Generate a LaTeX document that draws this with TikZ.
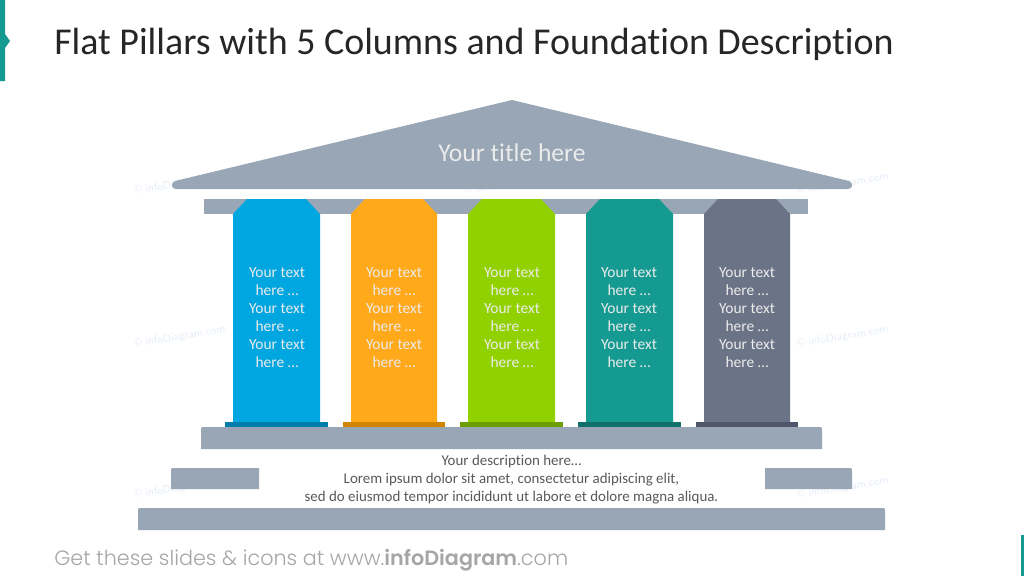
\documentclass[tikz,border=0pt]{standalone}
\usepackage{fontspec}
\setmainfont{Carlito}[Ligatures=NoCommon]
\newfontfamily\footfont{Poppins Light}[BoldFont={Poppins SemiBold}]
\definecolor{roofc}{HTML}{98A6B5}
\definecolor{tealc}{HTML}{159A91}
\definecolor{c1}{HTML}{00A6E0}
\definecolor{c2}{HTML}{FFA91B}
\definecolor{c3}{HTML}{92D100}
\definecolor{c4}{HTML}{159A91}
\definecolor{c5}{HTML}{6B7386}
\definecolor{b1}{HTML}{007DA8}
\definecolor{b2}{HTML}{D18500}
\definecolor{b3}{HTML}{6E9D00}
\definecolor{b4}{HTML}{10706B}
\definecolor{b5}{HTML}{50566A}
\definecolor{wmc}{HTML}{E6EDF7}
\tikzset{
  x=0.75pt,y=-0.75pt,
  wm/.style={text=wmc,font=\fontsize{8}{9}\selectfont\sffamily,rotate=9,inner sep=0pt},
  coltext/.style={text=white!92!black,align=center,inner sep=0pt,font=\fontsize{11.6}{13.5}\selectfont},
  stone/.style={fill=roofc,draw=none},
}
\newcommand{\pillar}[4]{% left x, right x, fill, base
  \fill[#3] (#1,422) -- (#1,214) -- (#1+14,199) -- (#2-14,199) -- (#2,214) -- (#2,422) -- cycle;
  \fill[#4] (#1-8,422) rectangle (#2+8,427);
}
\begin{document}
\begin{tikzpicture}
\useasboundingbox (0,0) rectangle (1024,576);
\fill[white] (0,0) rectangle (1024,576);
% watermarks
\foreach \n/\xx/\yy in {wa/180/184,wb/511/184,wc/843/184,wd/180/337,wf/843/337,wg/180/488,wh/843/488}
  \node[wm] (\n) at (\xx,\yy) {© infoDiagram.com};
% corner marks
\fill[tealc] (0,0) -- (5,0) -- (5,34) -- (10,41) -- (5,48) -- (5,81) -- (0,81) -- cycle;
\fill[tealc] (1021,535) rectangle (1024,576);
% title
\node[anchor=west,inner sep=0pt,text=black!85,font=\fontsize{28.45}{32}\selectfont] (title) at (54,44) {Flat Pillars with 5 Columns and Foundation Description};
% roof
\fill[stone] (512,100) -- (849,181) .. controls (853.5,182.5) and (853,189) .. (848,189) -- (176,189) .. controls (171,189) and (170.5,182.5) .. (175,181) -- cycle;
\node[text=white!92!black,inner sep=0pt,font=\fontsize{19.2}{22}\selectfont] (rooftext) at (512,152.5) {Your title here};
% architrave
\fill[stone] (204,199) rectangle (808,214);
% pillars
\pillar{233}{320}{c1}{b1}
\pillar{351}{437}{c2}{b2}
\pillar{468}{555}{c3}{b3}
\pillar{586}{673}{c4}{b4}
\pillar{704}{790}{c5}{b5}
\foreach \n/\xx in {ta/277,tb/394,tc/512,td/629,te/747}
  \node[coltext] (\n) at (\xx,318) {Your text\\here …\\Your text\\here …\\Your text\\here …};
% steps
\fill[stone] (201,449) -- (201,431) .. controls (201,427) .. (205,427) -- (818,427) .. controls (822,427) .. (822,431) -- (822,449) -- cycle;
\fill[stone] (171,489) -- (171,472) .. controls (171,468) .. (175,468) -- (259,468) -- (259,489) -- cycle;
\fill[stone] (765,489) -- (765,468) -- (848,468) .. controls (852,468) .. (852,472) -- (852,489) -- cycle;
\fill[stone] (138,530) -- (138,512) .. controls (138,508) .. (142,508) -- (881,508) .. controls (885,508) .. (885,512) -- (885,530) -- cycle;
% description
\node[text=black!65,align=center,inner sep=0pt,font=\fontsize{11.2}{13.5}\selectfont] (desc) at (511.5,480) {Your description here…\\Lorem ipsum dolor sit amet, consectetur adipiscing elit,\\sed do eiusmod tempor incididunt ut labore et dolore magna aliqua.};
% footer
\node[anchor=west,inner sep=0pt,text=black!35,font=\footfont\fontsize{15.55}{17}\selectfont] (foot) at (54,560) {Get these slides \& icons at www.\textbf{infoDiagram}.com};
\end{tikzpicture}
\end{document}
